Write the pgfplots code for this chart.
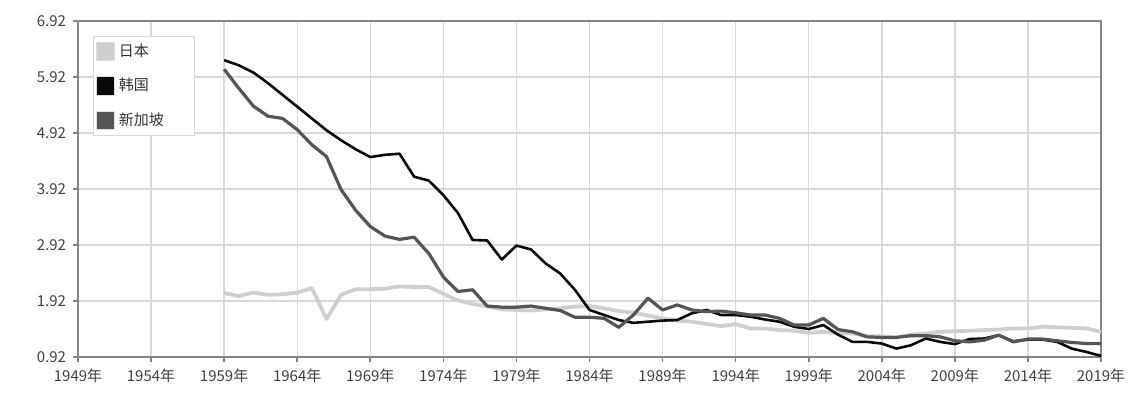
\documentclass[border=0pt]{standalone}
\usepackage{fontspec}
\setmainfont{Noto Sans CJK SC}
\usepackage{pgfplots}
\pgfplotsset{compat=1.18}
\definecolor{jp}{HTML}{CFCFCF}
\definecolor{kr}{HTML}{0A0A0A}
\definecolor{sg}{HTML}{555555}
\definecolor{gridc}{HTML}{D9D9D9}
\definecolor{framec}{HTML}{858585}
\begin{document}
\begin{tikzpicture}
\begin{axis}[
  scale only axis,
  width=511.5pt, height=168pt,
  xmin=1949, xmax=2019,
  ymin=0.92, ymax=6.92,
  xtick={1949,1954,...,2019},
  xticklabels={1949年,1954年,1959年,1964年,1969年,1974年,1979年,1984年,1989年,1994年,1999年,2004年,2009年,2014年,2019年},
  ytick={0.92,1.92,2.92,3.92,4.92,5.92,6.92},
  yticklabels={0.92,1.92,2.92,3.92,4.92,5.92,6.92},
  tick label style={font=\fontsize{7.5}{8.5}\selectfont, text=black!75},
  tick align=outside,
  major tick length=2.5pt,
  tick style={framec, line width=0.8pt},
  xtick pos=bottom, ytick pos=left,
  grid=major,
  major grid style={gridc, line width=0.7pt},
  axis line style={framec, line width=1.3pt},
  legend style={at={(0,1)}, anchor=north west, xshift=7.5pt, yshift=-7.5pt,
    draw=gridc, line width=0.6pt, font=\fontsize{7.5}{8.5}\selectfont, text=black!80,
    row sep=5.5pt, inner xsep=1pt, inner ysep=1.5pt, cells={anchor=west}},
  legend cell align=left,
  legend image code/.code={\draw[#1, draw=gray!25, line width=0.5pt, fill] (0cm,-0.16cm) rectangle (0.32cm,0.16cm);},
  every axis plot/.append style={line join=round},
]
\addplot[jp, line width=1.9pt] coordinates {
(1959,2.06)(1960,2.01)(1961,2.07)(1962,2.03)(1963,2.04)(1964,2.07)(1965,2.15)(1966,1.60)(1967,2.03)(1968,2.13)
(1969,2.13)(1970,2.14)(1971,2.18)(1972,2.17)(1973,2.17)(1974,2.05)(1975,1.93)(1976,1.87)(1977,1.82)(1978,1.77)
(1979,1.76)(1980,1.75)(1981,1.77)(1982,1.79)(1983,1.82)(1984,1.83)(1985,1.79)(1986,1.74)(1987,1.71)(1988,1.66)
(1989,1.61)(1990,1.57)(1991,1.55)(1992,1.51)(1993,1.47)(1994,1.51)(1995,1.43)(1996,1.43)(1997,1.40)(1998,1.39)
(1999,1.35)(2000,1.37)(2001,1.34)(2002,1.34)(2003,1.29)(2004,1.29)(2005,1.27)(2006,1.32)(2007,1.34)(2008,1.37)
(2009,1.38)(2010,1.39)(2011,1.40)(2012,1.41)(2013,1.43)(2014,1.43)(2015,1.46)(2016,1.45)(2017,1.44)(2018,1.43)
(2019,1.37)};
\addlegendentry{日本}
\addplot[kr, line width=1.3pt] coordinates {
(1959,6.22)(1960,6.13)(1961,6.00)(1962,5.81)(1963,5.60)(1964,5.39)(1965,5.18)(1966,4.97)(1967,4.79)(1968,4.63)
(1969,4.49)(1970,4.53)(1971,4.55)(1972,4.14)(1973,4.07)(1974,3.81)(1975,3.49)(1976,3.01)(1977,3.00)(1978,2.66)
(1979,2.91)(1980,2.84)(1981,2.59)(1982,2.41)(1983,2.12)(1984,1.76)(1985,1.67)(1986,1.58)(1987,1.53)(1988,1.55)
(1989,1.57)(1990,1.58)(1991,1.70)(1992,1.76)(1993,1.67)(1994,1.67)(1995,1.64)(1996,1.59)(1997,1.55)(1998,1.46)
(1999,1.42)(2000,1.49)(2001,1.32)(2002,1.19)(2003,1.19)(2004,1.16)(2005,1.07)(2006,1.13)(2007,1.25)(2008,1.19)
(2009,1.15)(2010,1.24)(2011,1.25)(2012,1.31)(2013,1.20)(2014,1.23)(2015,1.23)(2016,1.19)(2017,1.07)(2018,1.01)
(2019,0.94)};
\addlegendentry{韩国}
\addplot[sg, line width=1.6pt] coordinates {
(1959,6.06)(1960,5.72)(1961,5.40)(1962,5.22)(1963,5.18)(1964,4.98)(1965,4.71)(1966,4.50)(1967,3.91)(1968,3.54)
(1969,3.25)(1970,3.08)(1971,3.02)(1972,3.06)(1973,2.77)(1974,2.35)(1975,2.09)(1976,2.12)(1977,1.83)(1978,1.81)
(1979,1.81)(1980,1.83)(1981,1.79)(1982,1.75)(1983,1.63)(1984,1.63)(1985,1.61)(1986,1.45)(1987,1.67)(1988,1.97)
(1989,1.76)(1990,1.85)(1991,1.76)(1992,1.73)(1993,1.74)(1994,1.71)(1995,1.67)(1996,1.67)(1997,1.61)(1998,1.49)
(1999,1.49)(2000,1.61)(2001,1.41)(2002,1.37)(2003,1.28)(2004,1.27)(2005,1.27)(2006,1.30)(2007,1.30)(2008,1.28)
(2009,1.21)(2010,1.19)(2011,1.22)(2012,1.31)(2013,1.19)(2014,1.24)(2015,1.24)(2016,1.21)(2017,1.18)(2018,1.16)
(2019,1.16)};
\addlegendentry{新加坡\hspace*{12.5pt}}
\end{axis}
\pgfresetboundingbox
\path ([shift={(-39pt,-19.5pt)}]current axis.south west) rectangle ([shift={(20.5pt,10.5pt)}]current axis.north east);
\end{tikzpicture}
\end{document}
